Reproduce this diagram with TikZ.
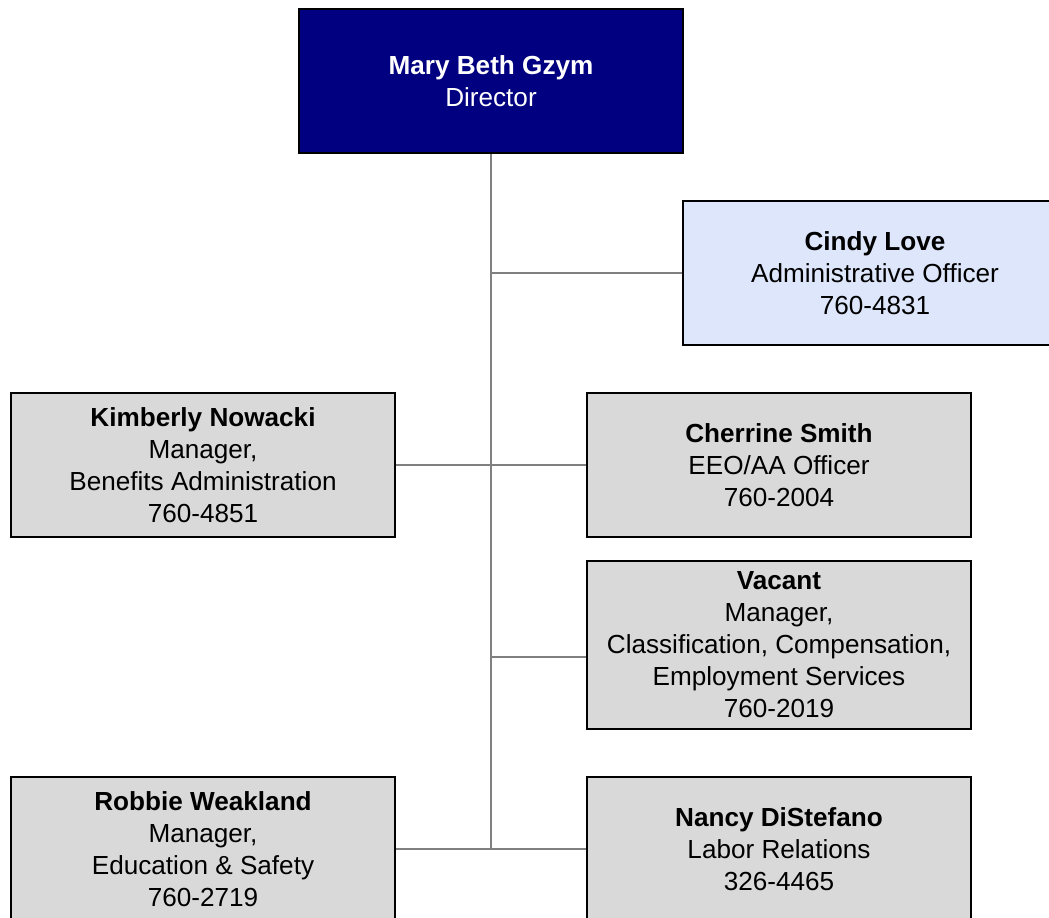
\documentclass[tikz,border=0pt]{standalone}
\usepackage{fontspec}
\setmainfont{Liberation Sans}
\definecolor{navy}{HTML}{000080}
\definecolor{lav}{HTML}{DDE6FA}
\definecolor{boxgray}{HTML}{D9D9D9}
\definecolor{linegray}{HTML}{808080}
\begin{document}
\begin{tikzpicture}[x=0.75pt,y=-0.75pt,
  box/.style={draw=black,line width=1.5pt,fill=boxgray,minimum width=384*0.75pt,
    minimum height=144*0.75pt,inner sep=0pt,align=center,
    font=\fontsize{19.6}{24}\selectfont},
  conn/.style={draw=linegray,line width=1.1pt}]
\useasboundingbox (0,0) rectangle (1049,917);
\node[box,fill=navy,text=white] (dir) at (491,81) {\textbf{Mary Beth Gzym}\\Director};
\node[box,fill=lav] (cindy) at (875,273) {\textbf{Cindy Love}\\Administrative Officer\\760-4831};
\node[box] (kim) at (203,465) {\textbf{Kimberly Nowacki}\\Manager,\\Benefits Administration\\760-4851};
\node[box] (cher) at (779,465) {\textbf{Cherrine Smith}\\EEO/AA Officer\\760-2004};
\node[box,minimum height=168*0.75pt] (vac) at (779,645) {\textbf{Vacant}\\Manager,\\Classification, Compensation,\\Employment Services\\760-2019};
\node[box] (rob) at (203,849) {\textbf{Robbie Weakland}\\Manager,\\Education \& Safety\\760-2719};
\node[box] (nancy) at (779,849) {\textbf{Nancy DiStefano}\\Labor Relations\\326-4465};
\coordinate (bot) at (dir.south |- rob.east);
\coordinate (vjr) at ([yshift=-12*0.75pt]vac.west);
\coordinate (vj) at (dir.south |- vjr);
\coordinate (cj) at (dir.south |- cindy.west);
\draw[conn] (dir.south) -- (bot);
\draw[conn] (cj) -- (cindy.west);
\draw[conn] (kim.east) -- (cher.west);
\draw[conn] (vj) -- (vjr);
\draw[conn] (rob.east) -- (nancy.west);
\end{tikzpicture}
\end{document}
